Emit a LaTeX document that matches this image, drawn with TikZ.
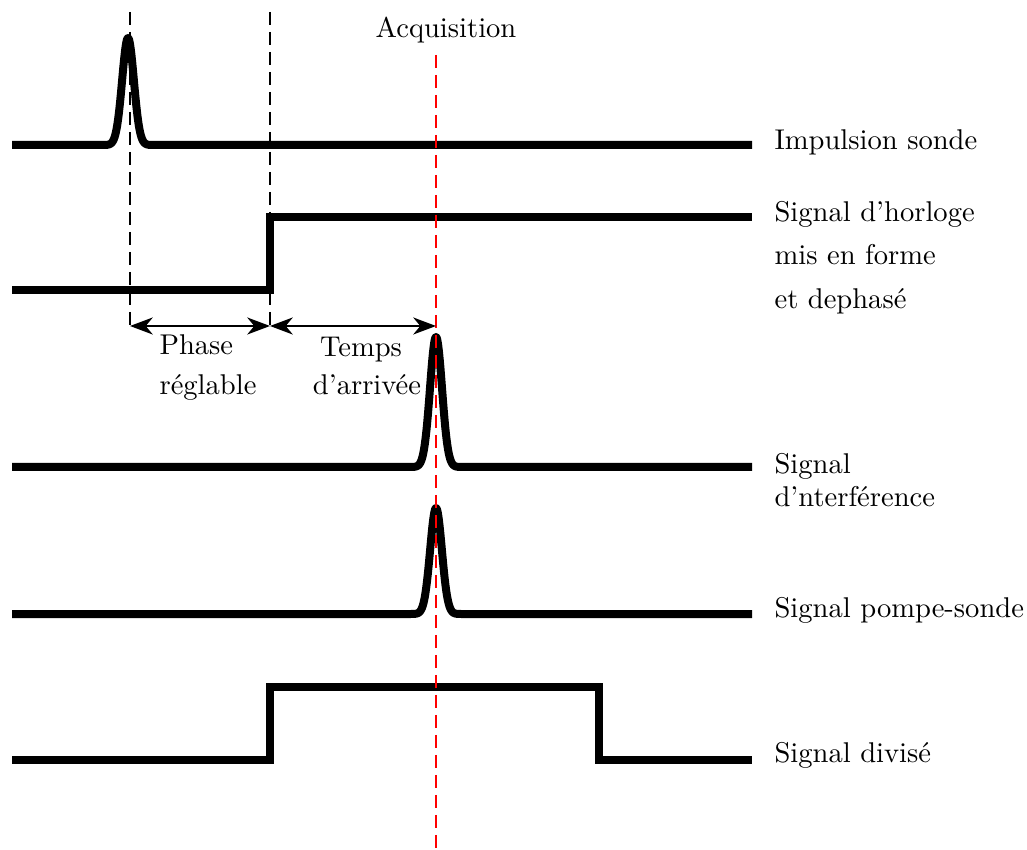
\documentclass[tikz,border=0pt]{standalone}
\usetikzlibrary{arrows.meta}
\begin{document}
\begin{tikzpicture}[x=0.35pt,y=-0.35pt,
  sig/.style={line width=2.8pt, line join=miter},
  pulse/.style={line width=2.8pt, line join=round},
  guide/.style={line width=0.5pt, dash pattern=on 4.5pt off 2.5pt},
  acq/.style={line width=0.6pt, red, dash pattern=on 4.5pt off 2.5pt},
  dim/.style={line width=0.5pt, {Stealth[length=8pt,width=6pt,inset=2.5pt]}-{Stealth[length=8pt,width=6pt,inset=2.5pt]}},
  lbl/.style={inner sep=0pt, anchor=base west},
  ctr/.style={inner sep=0pt, anchor=base}]
\useasboundingbox (0,0) rectangle (1027,850);
% signal 1: probe pulse
\draw[pulse] (12,145) -- (100,145)
  -- plot[domain=-28:28, samples=101] ({128+\x},{145-107*exp(-(\x/8.3)^2)})
  -- (752,145);
% signal 2: clock
\draw[sig] (12,290) -- (270,290) -- (270,217) -- (752,217);
% signal 3: interference
\draw[pulse] (12,467) -- (408,467)
  -- plot[domain=-28:28, samples=101] ({436+\x},{467-130*exp(-(\x/8.5)^2)})
  -- (752,467);
% signal 4: pump-probe
\draw[pulse] (12,614) -- (408,614)
  -- plot[domain=-28:28, samples=101] ({436+\x},{614-106*exp(-(\x/8.3)^2)})
  -- (752,614);
% signal 5: divided
\draw[sig] (12,760) -- (270,760) -- (270,687) -- (599,687) -- (599,760) -- (752,760);
% guides
\coordinate (g1t) at (130,12); \coordinate (g1b) at (130,330);
\coordinate (g2t) at (270,12); \coordinate (g2b) at (270,330);
\coordinate (rt) at (436,55); \coordinate (rb) at (436,850);
\draw[guide] (g1t) -- (g1b);
\draw[guide] (g2t) -- (g2b);
\draw[acq] (rt) -- (rb);
% dimension arrows
\coordinate (a1) at (130,326); \coordinate (a2) at (270,326); \coordinate (a3) at (436,326);
\draw[dim] (a1) -- (a2);
\draw[dim] (a2) -- (a3);
% labels
\node[ctr] (acqt) at (446,38) {Acquisition};
\node[lbl] (ph1) at (159,355) {Phase};
\node[lbl] (ph2) at (159,395) {réglable};
\node[ctr] (tp1) at (361,357) {Temps};
\node[ctr] (tp2) at (367,395) {d'arrivée};
\node[lbl] (l1) at (774,150) {Impulsion sonde};
\node[lbl] (l2a) at (774,222) {Signal d'horloge};
\node[lbl] (l2b) at (774,265) {mis en forme};
\node[lbl] (l2c) at (774,309) {et dephasé};
\node[lbl] (l3a) at (774,473) {Signal};
\node[lbl] (l3b) at (774,507) {d'nterférence};
\node[lbl] (l4) at (774,617) {Signal pompe-sonde};
\node[lbl] (l5) at (774,762) {Signal divisé};
\end{tikzpicture}
\end{document}
